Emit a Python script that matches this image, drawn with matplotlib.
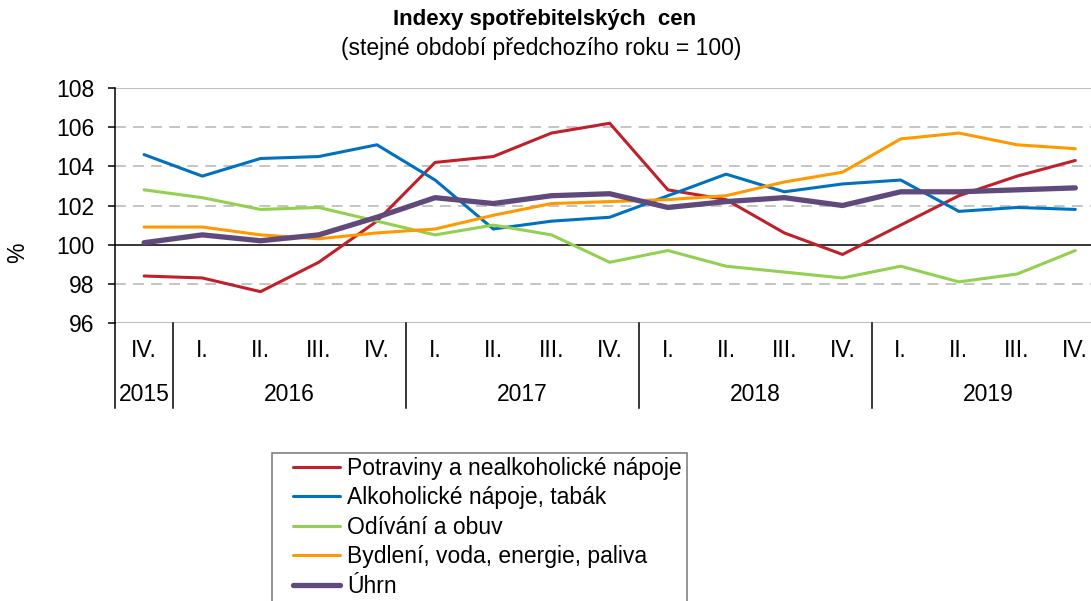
import matplotlib
matplotlib.use("Agg")
import matplotlib.pyplot as plt
import matplotlib.transforms as mtransforms
from matplotlib.patches import Rectangle

plt.rcParams['font.family'] = ['Liberation Sans', 'DejaVu Sans']

# quarters IV/2015 .. IV/2019
quarters = ['IV.', 'I.', 'II.', 'III.', 'IV.', 'I.', 'II.', 'III.', 'IV.',
            'I.', 'II.', 'III.', 'IV.', 'I.', 'II.', 'III.', 'IV.']
years = ['2015', '2016', '2017', '2018', '2019']
year_len = [1, 4, 4, 4, 4]

potraviny = [98.4, 98.3, 97.6, 99.1, 101.2, 104.2, 104.5, 105.7, 106.2,
             102.8, 102.3, 100.6, 99.5, 101.0, 102.5, 103.5, 104.3]
alkohol = [104.6, 103.5, 104.4, 104.5, 105.1, 103.3, 100.8, 101.2, 101.4,
           102.5, 103.6, 102.7, 103.1, 103.3, 101.7, 101.9, 101.8]
odivani = [102.8, 102.4, 101.8, 101.9, 101.2, 100.5, 101.0, 100.5, 99.1,
           99.7, 98.9, 98.6, 98.3, 98.9, 98.1, 98.5, 99.7]
bydleni = [100.9, 100.9, 100.5, 100.3, 100.6, 100.8, 101.5, 102.1, 102.2,
           102.3, 102.5, 103.2, 103.7, 105.4, 105.7, 105.1, 104.9]
uhrn = [100.1, 100.5, 100.2, 100.5, 101.4, 102.4, 102.1, 102.5, 102.6,
        101.9, 102.2, 102.4, 102.0, 102.7, 102.7, 102.8, 102.9]

series = [
    ('Potraviny a nealkoholické nápoje', potraviny, '#C0202A', 2.2),
    ('Alkoholické nápoje, tabák', alkohol, '#0070C0', 2.2),
    ('Odívání a obuv', odivani, '#92D050', 2.2),
    ('Bydlení, voda, energie, paliva', bydleni, '#FF9900', 2.2),
    ('Úhrn', uhrn, '#604A7B', 3.8),
]

W, H = 1091, 601
FS = 16.5
fig = plt.figure(figsize=(W / 100, H / 100), dpi=100)
ax = fig.add_axes([115 / W, 1 - 323 / H, 17 * 58.2 / W, 235 / H])

x = list(range(len(quarters)))
for name, vals, col, lw in series:
    ax.plot(x, vals, color=col, lw=lw, label=name, solid_capstyle='round', zorder=3)

ax.set_xlim(-0.5, len(quarters) - 0.5)
ax.set_ylim(96, 108)
ax.set_yticks(range(96, 109, 2))
for v in [98, 102, 104, 106]:
    ax.axhline(v, color='#BFBFBF', lw=1.3, ls=(0, (6, 4)), zorder=1)
for v in [96, 108]:
    ax.axhline(v, color='#BFBFBF', lw=1.5, zorder=1)
ax.axhline(100, color='black', lw=1.1, zorder=2)

for s in ['top', 'right', 'bottom']:
    ax.spines[s].set_visible(False)
ax.spines['left'].set_linewidth(1.1)
ax.tick_params(axis='y', length=5, width=1.1, pad=10, labelsize=FS)
ax.tick_params(axis='x', bottom=False, labelbottom=False)

# two-level category axis
trans = mtransforms.blended_transform_factory(ax.transData, ax.transAxes)
for i, q in enumerate(quarters):
    ax.text(i, -0.115, q, transform=trans, ha='center', va='center', fontsize=FS)
start = 0
for yr, n in zip(years, year_len):
    ax.text(start + (n - 1) / 2, -0.305, yr, transform=trans, ha='center',
            va='center', fontsize=FS)
    ax.plot([start - 0.5, start - 0.5], [0, -0.362], transform=trans,
            color='black', lw=1.1, clip_on=False)
    start += n

fig.text(545 / W, 1 - 19 / H, 'Indexy spotřebitelských  cen', ha='center',
         va='center', fontsize=16, fontweight='bold')
fig.text(541 / W, 1 - 48 / H, '(stejné období předchozího roku = 100)',
         ha='center', va='center', fontsize=FS)
fig.text(18 / W, 1 - 253 / H, '%', rotation=90, ha='center', va='center', fontsize=FS)

# legend frame drawn separately so it can run off the bottom edge
fig.patches.append(Rectangle((272 / W, -0.05), (687 - 272) / W, 1 - 453 / H + 0.05,
                             transform=fig.transFigure, fill=False,
                             edgecolor='#808080', lw=1.2))
fig.legend(loc='upper left', bbox_to_anchor=(293 / W, 1 - 457 / H),
           bbox_transform=fig.transFigure, borderaxespad=0, borderpad=0,
           fontsize=FS, frameon=False, handlelength=2.05, handletextpad=0.3,
           labelspacing=0.28)

fig.savefig('out.png', dpi=100)
